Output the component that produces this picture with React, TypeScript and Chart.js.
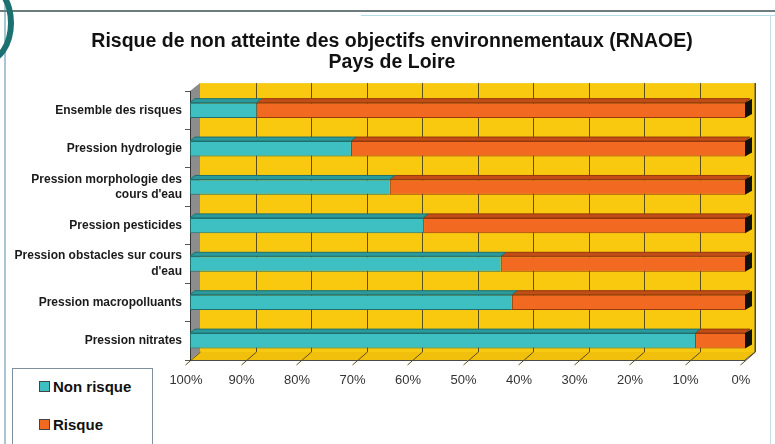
import React, { useEffect, useRef } from "react";
import { Chart, registerables } from "chart.js";

Chart.register(...registerables);

const titleLines = [
  "Risque de non atteinte des objectifs environnementaux (RNAOE)",
  "Pays de Loire",
];
const categories: (string | string[])[] = [
  "Ensemble des risques",
  "Pression hydrologie",
  ["Pression morphologie des", "cours d'eau"],
  "Pression pesticides",
  ["Pression obstacles sur cours", "d'eau"],
  "Pression macropolluants",
  "Pression nitrates",
];
const nonRisque = [12, 29, 36, 42, 56, 58, 91];
const risque = [88, 71, 64, 58, 44, 42, 9];
const xTickLabels = ["0%", "10%", "20%", "30%", "40%", "50%", "60%", "70%", "80%", "90%", "100%"];
const legendLabels = ["Non risque", "Risque"];

const TEAL = "#3ebfc1";
const TEAL_TOP = "#2a9a9c";
const TEAL_EDGE = "#1f6f70";
const ORANGE = "#f26a22";
const ORANGE_TOP = "#c24d17";
const ORANGE_EDGE = "#93390f";
const YELLOW = "#f9c90f";
const FLOOR = "#f0c00c";
const GRID = "#5e4d1c";
const WALL = "#8d8d8d";
const WDX = 10;
const WDY = 8;
const BDX = 5;
const BDY = 4;
const FONT = "Arial, 'Liberation Sans', sans-serif";

const wallsPlugin = {
  id: "walls3d",
  afterLayout(chart: any) {
    const tb = chart.titleBlock;
    if (tb) {
      tb.left = 9;
      tb.right = 775;
      tb.width = 766;
    }
  },
  beforeDraw(chart: any) {
    const { ctx, chartArea, scales } = chart;
    if (!chartArea) return;
    const { left, right, top, bottom } = chartArea;
    const x = scales.x;
    ctx.save();
    ctx.fillStyle = YELLOW;
    ctx.fillRect(left + WDX, top - WDY, right - left, bottom - top);
    ctx.fillStyle = FLOOR;
    ctx.beginPath();
    ctx.moveTo(left, bottom);
    ctx.lineTo(left + WDX, bottom - WDY);
    ctx.lineTo(right + WDX, bottom - WDY);
    ctx.lineTo(right, bottom);
    ctx.closePath();
    ctx.fill();
    ctx.fillStyle = WALL;
    ctx.beginPath();
    ctx.moveTo(left, top);
    ctx.lineTo(left + WDX, top - WDY);
    ctx.lineTo(left + WDX, bottom - WDY);
    ctx.lineTo(left, bottom);
    ctx.closePath();
    ctx.fill();
    ctx.strokeStyle = GRID;
    ctx.lineWidth = 1;
    for (let i = 0; i < xTickLabels.length; i++) {
      const v = i * 10;
      const px = Math.round(x.getPixelForValue(v)) + 0.5;
      ctx.beginPath();
      if (v !== 100) {
        ctx.moveTo(px + WDX, top - WDY);
        ctx.lineTo(px + WDX, bottom - WDY);
      }
      ctx.moveTo(px + WDX, bottom - WDY);
      ctx.lineTo(px - 5, bottom + 5);
      ctx.stroke();
    }
    ctx.strokeStyle = "#4a4a4a";
    ctx.beginPath();
    ctx.moveTo(left, bottom + 0.5);
    ctx.lineTo(right, bottom + 0.5);
    ctx.moveTo(right, bottom);
    ctx.lineTo(right + WDX, bottom - WDY);
    ctx.lineTo(right + WDX, top - WDY);
    ctx.stroke();
    ctx.restore();
  },
  afterDatasetsDraw(chart: any) {
    const { ctx } = chart;
    ctx.save();
    chart.data.datasets.forEach((ds: any, di: number) => {
      const meta = chart.getDatasetMeta(di);
      const isRisque = ds.label === legendLabels[1];
      meta.data.forEach((el: any) => {
        const l = Math.min(el.x, el.base);
        const r = Math.max(el.x, el.base);
        const t = el.y - el.height / 2;
        const b = el.y + el.height / 2;
        ctx.fillStyle = isRisque ? ORANGE_TOP : TEAL_TOP;
        ctx.strokeStyle = isRisque ? ORANGE_EDGE : TEAL_EDGE;
        ctx.lineWidth = 1;
        ctx.beginPath();
        ctx.moveTo(l, t);
        ctx.lineTo(l + BDX, t - BDY);
        ctx.lineTo(r + BDX, t - BDY);
        ctx.lineTo(r, t);
        ctx.closePath();
        ctx.fill();
        ctx.stroke();
        if (isRisque) {
          ctx.fillStyle = "#111";
          ctx.beginPath();
          ctx.moveTo(r, t);
          ctx.lineTo(r + BDX + 2, t - BDY);
          ctx.lineTo(r + BDX + 2, b - BDY);
          ctx.lineTo(r, b);
          ctx.closePath();
          ctx.fill();
        }
      });
    });
    ctx.restore();
  },
};

export default function App() {
  const canvasRef = useRef<HTMLCanvasElement | null>(null);

  useEffect(() => {
    if (!canvasRef.current) return;
    const chart = new Chart(canvasRef.current, {
      type: "bar",
      data: {
        labels: categories as any,
        datasets: [
          {
            label: legendLabels[1],
            data: risque,
            backgroundColor: ORANGE,
            borderColor: ORANGE_EDGE,
            borderWidth: 1,
            barPercentage: 0.4,
            categoryPercentage: 1,
          },
          {
            label: legendLabels[0],
            data: nonRisque,
            backgroundColor: TEAL,
            borderColor: TEAL_EDGE,
            borderWidth: 1,
            barPercentage: 0.4,
            categoryPercentage: 1,
          },
        ],
      },
      options: {
        indexAxis: "y",
        responsive: false,
        animation: false,
        layout: { padding: { left: 0, right: 30, top: 0, bottom: 0 } },
        plugins: {
          legend: { display: false },
          tooltip: { enabled: false },
          title: {
            display: true,
            text: titleLines,
            color: "#111",
            font: { family: FONT, size: 19.5, weight: "bold", lineHeight: 1.08 },
            padding: { top: 31, bottom: 18 },
          },
        },
        scales: {
          x: {
            stacked: true,
            min: 0,
            max: 100,
            reverse: true,
            grid: { display: false },
            border: { display: false },
            ticks: {
              stepSize: 10,
              autoSkip: false,
              maxRotation: 0,
              padding: 5,
              labelOffset: -4,
              color: "#333",
              font: { family: FONT, size: 13 },
              callback: (v: any) => xTickLabels[Math.round(Number(v) / 10)],
            },
            afterFit: (s: any) => {
              s.height = 84;
            },
          },
          y: {
            stacked: true,
            grid: {
              display: true,
              drawOnChartArea: false,
              offset: true,
              tickLength: 5,
              color: "#555",
            },
            border: { display: true, color: "#333" },
            ticks: {
              color: "#1a1a1a",
              padding: 3,
              font: { family: FONT, size: 12, weight: "bold", lineHeight: 1.3 },
            },
            afterFit: (s: any) => {
              s.width = 190;
            },
          },
        },
      },
      plugins: [wallsPlugin],
    } as any);
    return () => chart.destroy();
  }, []);

  const legendItem = (label: string, color: string, top: number) => (
    <div
      style={{
        position: "absolute",
        left: 26,
        top,
        display: "flex",
        alignItems: "center",
        fontFamily: FONT,
        fontWeight: "bold",
        fontSize: 15,
        color: "#111",
      }}
    >
      <span
        style={{
          display: "inline-block",
          width: 9,
          height: 9,
          background: color,
          border: "1px solid #444",
          marginRight: 3,
        }}
      />
      {label}
    </div>
  );

  return (
    <div
      style={{
        position: "fixed",
        left: 0,
        top: 0,
        width: 775,
        height: 444,
        overflow: "hidden",
        background: "#fff",
      }}
    >
      <canvas ref={canvasRef} width={775} height={444} style={{ position: "absolute", left: 0, top: 0 }} />
      <div style={{ position: "absolute", left: 4, top: 0, width: 2, height: 444, background: "#a9c6d6" }} />
      <div style={{ position: "absolute", left: 0, top: 10, width: 775, height: 2, background: "#6d7d7d" }} />
      <div style={{ position: "absolute", left: 361, top: 15, width: 414, height: 1, background: "#b4dbe8" }} />
      <div style={{ position: "absolute", left: 770, top: 15, width: 1, height: 429, background: "#c4dfea" }} />
      <div
        style={{
          position: "absolute",
          left: -42,
          top: -18,
          width: 44,
          height: 70,
          borderRadius: "50%",
          border: "6px solid #1d7070",
        }}
      />
      <div
        style={{
          position: "absolute",
          left: 12,
          top: 368,
          width: 139,
          height: 90,
          border: "1px solid #7f8f9c",
          background: "#fff",
        }}
      >
        {legendItem(legendLabels[0], TEAL, 9)}
        {legendItem(legendLabels[1], ORANGE, 47)}
      </div>
    </div>
  );
}
